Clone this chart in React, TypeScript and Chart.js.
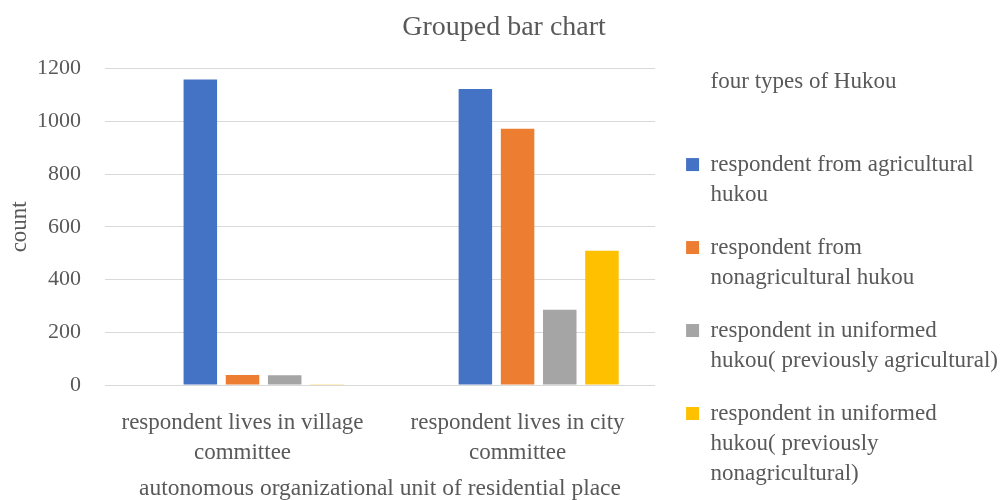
import React, { useEffect, useRef } from "react";
import { Chart, registerables } from "chart.js";

Chart.register(...registerables);

// ---- data ----
const categories: string[][] = [
  ["respondent lives in village", "committee"],
  ["respondent lives in city", "committee"],
];
const legendTitle = "four types of Hukou";
const seriesNames = [
  "respondent from agricultural hukou",
  "respondent from nonagricultural hukou",
  "respondent in uniformed hukou( previously agricultural)",
  "respondent in uniformed hukou( previously nonagricultural)",
];
const seriesLegendLines: string[][] = [
  ["respondent from agricultural", "hukou"],
  ["respondent from", "nonagricultural hukou"],
  ["respondent in uniformed", "hukou( previously agricultural)"],
  ["respondent in uniformed", "hukou( previously", "nonagricultural)"],
];
const agricultural = [1159, 1123];
const nonagricultural = [38, 972];
const uniformedPrevAgricultural = [37, 285];
const uniformedPrevNonagricultural = [3, 509];
const seriesColors = ["#4472C4", "#ED7D31", "#A5A5A5", "#FFC000"];
const yTicks = [0, 200, 400, 600, 800, 1000, 1200];
const chartTitle = "Grouped bar chart";
const xTitle = "autonomous organizational unit of residential place";
const yTitle = "count";

const FONT = "'Liberation Serif', 'Times New Roman', serif";
const TEXT = "#595959";

export default function App() {
  const ref = useRef<HTMLCanvasElement | null>(null);

  useEffect(() => {
    if (!ref.current) return;
    const seriesValues = [
      agricultural,
      nonagricultural,
      uniformedPrevAgricultural,
      uniformedPrevNonagricultural,
    ];
    const datasets: any[] = [
      {
        label: legendTitle,
        data: categories.map(() => null),
        backgroundColor: "rgba(0,0,0,0)",
        borderWidth: 0,
      },
      ...seriesNames.map((name, i) => ({
        label: name,
        data: seriesValues[i],
        backgroundColor: seriesColors[i],
        borderWidth: 0,
      })),
    ];

    const chart = new Chart(ref.current, {
      type: "bar",
      data: { labels: categories, datasets },
      options: {
        animation: false,
        responsive: false,
        datasets: {
          bar: { categoryPercentage: 0.767, barPercentage: 0.794 },
        },
        layout: { padding: 0 },
        plugins: {
          tooltip: { enabled: false },
          title: {
            display: true,
            text: chartTitle,
            color: TEXT,
            font: { family: FONT, size: 28, weight: "normal", lineHeight: 1.2 },
            padding: { top: 11, bottom: 24 },
          },
          legend: {
            position: "right",
            align: "end",
            maxWidth: 420,
            labels: {
              boxWidth: 13,
              boxHeight: 13,
              padding: 23,
              color: TEXT,
              font: { family: FONT, size: 23, lineHeight: 1.304 },
              generateLabels: (c: any) => {
                const items = (Chart as any).defaults.plugins.legend.labels.generateLabels(c);
                return items.map((item: any, i: number) =>
                  i === 0
                    ? {
                        ...item,
                        text: [legendTitle, ""],
                        fillStyle: "rgba(0,0,0,0)",
                        strokeStyle: "rgba(0,0,0,0)",
                        lineWidth: 0,
                      }
                    : { ...item, text: seriesLegendLines[i - 1], lineWidth: 0 }
                );
              },
            },
          },
        },
        scales: {
          x: {
            grid: { display: false },
            border: { display: false },
            ticks: {
              color: TEXT,
              font: { family: FONT, size: 23, lineHeight: 1.3 },
              padding: 15,
              maxRotation: 0,
              autoSkip: false,
            },
            title: {
              display: true,
              text: xTitle,
              color: TEXT,
              font: { family: FONT, size: 23.5, lineHeight: 1.2 },
              padding: { top: 0, bottom: 12 },
            },
            afterFit: (s: any) => {
              s.height = 130;
            },
          },
          y: {
            min: yTicks[0],
            max: yTicks[yTicks.length - 1],
            ticks: {
              stepSize: yTicks[1] - yTicks[0],
              padding: 24,
              color: TEXT,
              font: { family: FONT, size: 22 },
              callback: (v: any) => String(v),
            },
            grid: { color: "#D9D9D9", lineWidth: 1, drawTicks: false },
            border: { display: false },
            title: {
              display: true,
              text: yTitle,
              color: TEXT,
              font: { family: FONT, size: 23, lineHeight: 1.2 },
              padding: { top: 6, bottom: 0 },
            },
            afterFit: (s: any) => {
              s.width = 105;
            },
          },
          yGap: {
            position: "right",
            display: true,
            grid: { display: false },
            border: { display: false },
            ticks: { display: false },
            afterFit: (s: any) => {
              s.width = 8;
            },
          },
        },
      } as any,
    });
    return () => chart.destroy();
  }, []);

  return (
    <div
      style={{
        position: "fixed",
        left: 0,
        top: 0,
        width: 1008,
        height: 500,
        overflow: "hidden",
        background: "#ffffff",
      }}
    >
      <canvas ref={ref} width={1008} height={515} style={{ width: 1008, height: 515, display: "block" }} />
    </div>
  );
}
